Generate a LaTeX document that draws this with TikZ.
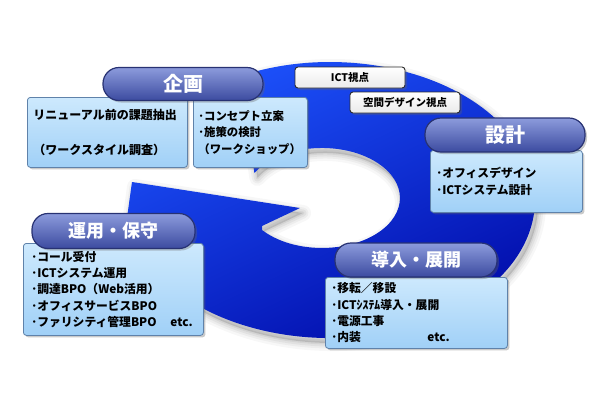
\documentclass[tikz,border=0pt]{standalone}
\usepackage{fontspec}
\setmainfont{Noto Sans CJK JP}
\usetikzlibrary{shadows}
\definecolor{ringA}{RGB}{30,85,255}
\definecolor{ringM}{RGB}{8,38,228}
\definecolor{ringB}{RGB}{0,8,165}
\definecolor{boxtop}{RGB}{205,233,253}
\definecolor{boxbot}{RGB}{160,208,247}
\definecolor{boxline}{RGB}{95,130,170}
\definecolor{pilltop}{RGB}{140,155,220}
\definecolor{pillbot}{RGB}{60,75,160}
\definecolor{pillline}{RGB}{40,50,115}
\definecolor{tagline}{RGB}{45,45,45}
\newcommand\myringpath{(240.1,-76.0) arc[start angle=116, end angle=-152, x radius=205, y radius=138] -- (120,-268) -- (132,-182) -- (300,-208) -- (262,-226) -- (262.2,-230.1) arc[start angle=-140, end angle=150, x radius=78, y radius=50] -- cycle}
\tikzset{
  cbox/.style={draw=boxline, line width=0.8pt, rounded corners=3pt,
    top color=boxtop, bottom color=boxbot, align=left, inner ysep=2pt,
    anchor=north west, text=black,
    font=\bfseries\fontsize{11.8}{16.3}\selectfont,
    drop shadow={shadow xshift=2pt, shadow yshift=-2pt, opacity=0.35, fill=black!60}},
  pill/.style={draw=pillline, line width=1.2pt, rounded corners=16pt,
    top color=pilltop, bottom color=pillbot, text=white, inner sep=0pt,
    drop shadow={shadow xshift=2pt, shadow yshift=-2pt, opacity=0.35, fill=black!60}},
  tagbox/.style={draw=tagline, line width=0.9pt, rounded corners=3pt,
    top color=white, bottom color=black!8, inner sep=0pt,
    minimum width=110pt, minimum height=21pt,
    font=\bfseries\fontsize{10.5}{12}\selectfont,
    drop shadow={shadow xshift=2pt, shadow yshift=-2pt, opacity=0.3, fill=black!60}}
}
\begin{document}
\begin{tikzpicture}[x=1pt, y=1pt]
\useasboundingbox (0,0) rectangle (610,-400);
% ring shadow
\begin{scope}[shift={(3,-5)}]
  \fill[black, opacity=0.12] \myringpath;
  \foreach \w/\o in {16/0.03, 11/0.04, 7/0.05, 3/0.06}{
    \draw[black, opacity=\o, line width=\w pt, line join=round] \myringpath;
  }
\end{scope}
% ring
\shade[top color=ringA, middle color=ringM, bottom color=ringB, shading angle=25] \myringpath;
% viewpoint tags
\node[tagbox] (ict) at (350,-77.5) {ICT視点};
\node[tagbox] (kukan) at (405,-102.5) {空間デザイン視点};
% content boxes
\node[cbox, inner xsep=6pt, text width=148pt, minimum height=70pt, font=\bfseries\fontsize{12}{16.3}\selectfont] (kA) at (27,-97)
  {リニューアル前の課題抽出\\[18pt]（ワークスタイル調査）};
\node[cbox, inner xsep=5pt, text width=104pt, minimum height=70pt, font=\bfseries\fontsize{11.4}{16.3}\selectfont] (kB) at (193,-97)
  {･コンセプト立案\\･施策の検討\\（ワークショップ）};
\node[cbox, inner xsep=6pt, text width=140pt, minimum height=62pt] (sB) at (430,-150)
  {･オフィスデザイン\\･ICTシステム設計};
\node[cbox, inner xsep=8pt, text width=164pt, minimum height=92pt] (uB) at (23,-243)
  {･コール受付\\･ICTシステム運用\\･調達BPO（Web活用）\\･オフィスサービスBPO\\\makebox[139pt][l]{･ファリシティ管理BPO}etc.};
\node[cbox, inner xsep=6pt, text width=170pt, minimum height=71pt] (dB) at (325,-277)
  {･移転／移設\\･ICTｼｽﾃﾑ導入・展開\\･電源工事\\\makebox[96pt][l]{･内装}etc.};
% phase titles
\node[pill, minimum width=160pt, minimum height=33pt, font=\bfseries\fontsize{20}{22}\selectfont] (kikaku) at (183,-84) {企画};
\node[pill, minimum width=160pt, minimum height=34pt, font=\bfseries\fontsize{20}{22}\selectfont] (sekkei) at (505,-135) {設計};
\node[pill, minimum width=163pt, minimum height=35pt, font=\bfseries\fontsize{18}{20}\selectfont] (unyo) at (113.5,-231) {運用・保守};
\node[pill, minimum width=162pt, minimum height=34pt, font=\bfseries\fontsize{18}{20}\selectfont] (donyu) at (416,-260) {導入・展開};
\end{tikzpicture}
\end{document}
